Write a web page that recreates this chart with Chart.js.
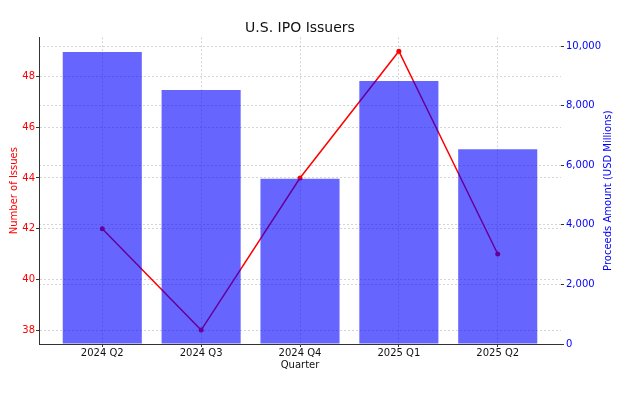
<!DOCTYPE html>
<html>
<head>
<meta charset="utf-8">
<script src="https://cdn.jsdelivr.net/npm/chart.js@4.4.1/dist/chart.umd.min.js"></script>
<style>html,body{margin:0;padding:0;background:#fff}</style>
</head>
<body>
<canvas id="myChart" width="623" height="393"></canvas>
<script>
const quarters = ['2024 Q2', '2024 Q3', '2024 Q4', '2025 Q1', '2025 Q2'];
const issuers = [42, 38, 44, 49, 41];
const proceeds = [9810, 8530, 5550, 8830, 6540];
const issuerTicks = [38, 40, 42, 44, 46, 48];
const proceedsTicks = [0, 2000, 4000, 6000, 8000, 10000];

const FONT = "'DejaVu Sans', sans-serif";
const GRID = 'rgba(176, 176, 176, 0.55)';
const DARK = '#333333';

const ctx = document.getElementById('myChart').getContext('2d');

// matplotlib twinx ylabel reads bottom-to-top, chart.js right title does not
const rightTitle = {
    id: 'rightTitle',
    afterDraw(chart) {
        const c = chart.ctx;
        const s = chart.scales.y1;
        c.save();
        c.translate(s.right - 15, (chart.chartArea.top + chart.chartArea.bottom) / 2);
        c.rotate(-Math.PI / 2);
        c.font = '10px ' + FONT;
        c.fillStyle = 'blue';
        c.textAlign = 'center';
        c.textBaseline = 'middle';
        c.fillText('Proceeds Amount (USD Millions)', 0, 0);
        c.restore();
    }
};

new Chart(ctx, {
    type: 'bar',
    data: {
        datasets: [{
            type: 'line',
            label: 'Number of Issues',
            data: issuers.map((v, i) => ({ x: i, y: v })),
            yAxisID: 'y',
            borderColor: 'red',
            backgroundColor: 'red',
            borderWidth: 1.5,
            pointRadius: 2.5,
            pointBorderWidth: 0,
            pointBackgroundColor: 'red',
            order: 2
        }, {
            label: 'Proceeds Amount',
            data: proceeds.map((v, i) => ({ x: i, y: v })),
            yAxisID: 'y1',
            backgroundColor: 'rgba(0, 0, 255, 0.6)',
            borderWidth: 0,
            categoryPercentage: 1,
            barPercentage: 0.8,
            order: 1
        }]
    },
    options: {
        responsive: false,
        animation: false,
        devicePixelRatio: 1,
        layout: { padding: { left: 0, right: 0, top: 0, bottom: 22 } },
        plugins: {
            legend: { display: false },
            tooltip: { enabled: false },
            title: {
                display: true,
                fullSize: false,
                text: 'U.S. IPO Issuers',
                color: '#111',
                font: { family: FONT, size: 14, weight: 'normal' },
                padding: { top: 20, bottom: 0.5 }
            }
        },
        scales: {
            x: {
                type: 'linear',
                min: -0.64,
                max: 4.64,
                offset: false,
                z: 1,
                afterBuildTicks: (s) => { s.ticks = quarters.map((q, i) => ({ value: i })); },
                afterFit: (s) => { s.height = 27; },
                ticks: {
                    callback: (v) => quarters[v] ?? '',
                    color: '#111',
                    font: { family: FONT, size: 10 },
                    padding: 0,
                    maxRotation: 0,
                    autoSkip: false
                },
                grid: { color: GRID, tickColor: DARK, tickLength: 3, offset: false },
                border: { display: true, color: DARK, width: 1, dash: [2, 2] },
                title: {
                    display: true,
                    text: 'Quarter',
                    color: '#111',
                    font: { family: FONT, size: 10 },
                    padding: { top: 1, bottom: 0 }
                }
            },
            y: {
                position: 'left',
                min: 37.45,
                max: 49.55,
                z: 1,
                afterBuildTicks: (s) => { s.ticks = issuerTicks.map(v => ({ value: v })); },
                afterFit: (s) => { s.width = 39; },
                ticks: {
                    color: 'red',
                    font: { family: FONT, size: 10 },
                    padding: 1
                },
                grid: { color: GRID, tickColor: DARK, tickLength: 3 },
                border: { display: true, color: DARK, width: 1, dash: [2, 2] },
                title: {
                    display: true,
                    text: 'Number of Issues',
                    color: 'red',
                    font: { family: FONT, size: 10 },
                    padding: { top: 8, bottom: 0 }
                }
            },
            y1: {
                position: 'right',
                min: 0,
                max: 10300,
                z: 1,
                afterBuildTicks: (s) => { s.ticks = proceedsTicks.map(v => ({ value: v })); },
                afterFit: (s) => { s.width = 62; },
                ticks: {
                    color: 'blue',
                    font: { family: FONT, size: 10 },
                    padding: 2,
                    callback: (v) => v.toLocaleString('en-US')
                },
                grid: { color: GRID, tickColor: DARK, tickLength: 3 },
                border: { display: false, dash: [2, 2] }
            }
        }
    },
    plugins: [rightTitle]
});
</script>
</body>
</html>
